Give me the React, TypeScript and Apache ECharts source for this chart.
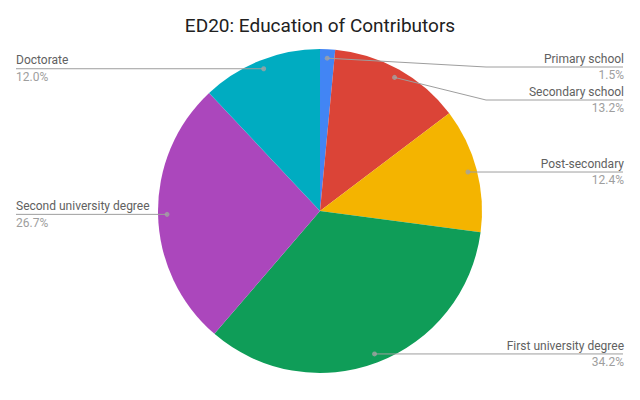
import { useEffect, useRef } from 'react';
import * as echarts from 'echarts';

const categories = [
  'Primary school',
  'Secondary school',
  'Post-secondary',
  'First university degree',
  'Second university degree',
  'Doctorate',
];
const shares = [1.5, 13.2, 12.4, 34.2, 26.7, 12.0];
const colors = ['#4285F4', '#DB4437', '#F4B400', '#0F9D58', '#AB47BC', '#00ACC1'];
const titleText = 'ED20: Education of Contributors';

const W = 640;
const H = 400;
const CX = 320;
const CY = 211;
const R = 162;
const R_DOT = 153;
const EDGE_L = 16;
const EDGE_R = 17;
const LABEL_H = 33;

export default function App() {
  const ref = useRef<HTMLDivElement>(null);

  useEffect(() => {
    const chart = echarts.init(ref.current!, undefined, { renderer: 'svg' });
    const total = shares.reduce((a, b) => a + b, 0);
    let acc = 0;
    const mids = shares.map((v) => {
      const m = ((acc + v / 2) / total) * 100;
      acc += v;
      return m;
    });

    // Label vertical layout: start at the anchor height, push down to avoid overlaps,
    // never above the top of the pie plus half a label.
    const topBound = CY - R + LABEL_H / 2 + 1.5;
    const labelY: number[] = new Array(shares.length).fill(0);
    const sides: { i: number; y: number; right: boolean }[] = mids.map((m, i) => {
      const a = (m / 100) * Math.PI * 2;
      return { i, y: CY - R_DOT * Math.cos(a), right: Math.sin(a) >= 0 };
    });
    [true, false].forEach((right) => {
      const list = sides.filter((s) => s.right === right).sort((a, b) => a.y - b.y);
      let last = -Infinity;
      list.forEach((s) => {
        let y = Math.max(s.y, topBound, last + LABEL_H);
        labelY[s.i] = y;
        last = y;
      });
    });

    const pieData = categories.map((c, i) => ({
      name: c,
      value: shares[i],
      itemStyle: { color: colors[i] },
    }));

    chart.setOption({
      animation: false,
      title: {
        text: titleText,
        left: 'center',
        top: 11,
        textStyle: {
          fontFamily: 'Roboto',
          fontSize: 19,
          fontWeight: 'normal',
          color: '#212121',
        },
      },
      polar: { center: [CX, CY], radius: R },
      angleAxis: {
        type: 'value',
        min: 0,
        max: 100,
        startAngle: 90,
        clockwise: true,
        show: false,
      },
      radiusAxis: { type: 'value', min: 0, max: R, show: false },
      series: [
        {
          type: 'pie',
          center: [CX, CY],
          radius: R,
          startAngle: 90,
          clockwise: true,
          silent: true,
          data: pieData,
          label: { show: false },
          labelLine: { show: false },
          emphasis: { disabled: true },
        },
        {
          type: 'pie',
          center: [CX, CY],
          radius: R_DOT,
          startAngle: 90,
          clockwise: true,
          silent: true,
          z: 3,
          data: categories.map((c, i) => ({ name: c, value: shares[i] })),
          itemStyle: { color: 'rgba(0,0,0,0)' },
          emphasis: { disabled: true },
          label: {
            show: true,
            position: 'outside',
            alignTo: 'edge',
            edgeDistance: EDGE_L,
            fontFamily: 'Roboto',
            formatter: (p: any) => `{n|${p.name}}\n{p|${Number(p.value).toFixed(1)}%}`,
            rich: {
              n: { fontFamily: 'Roboto', fontSize: 12, color: '#616161', lineHeight: 16.5 },
              p: { fontFamily: 'Roboto', fontSize: 12, color: '#9e9e9e', lineHeight: 16.5 },
            },
          },
          labelLine: {
            show: true,
            length: 0,
            length2: 0,
            lineStyle: { color: '#9e9e9e', width: 1 },
          },
          labelLayout: (params: any) => {
            const pts = params.labelLinePoints;
            if (!pts || !pts.length) return {};
            const lr = params.labelRect;
            const isLeft = lr.x + lr.width / 2 < CX;
            const y = labelY[params.dataIndex];
            const p0 = pts[0];
            const bendX = isLeft ? Math.min(p0[0], CX - R - 4) : Math.max(p0[0], CX + R + 4);
            const endX = isLeft ? EDGE_L : W - EDGE_R;
            return {
              y,
              labelLinePoints: [
                [p0[0], p0[1]],
                [bendX, y],
                [endX, y],
              ],
            };
          },
        },
        {
          type: 'scatter',
          coordinateSystem: 'polar',
          silent: true,
          z: 5,
          symbolSize: 5,
          itemStyle: { color: '#a3a3a3' },
          data: mids.map((m) => [R_DOT, m]),
        },
      ],
    });

    return () => chart.dispose();
  }, []);

  return (
    <div
      ref={ref}
      style={{ position: 'fixed', left: 0, top: 0, width: W, height: H, background: '#fff' }}
    />
  );
}
